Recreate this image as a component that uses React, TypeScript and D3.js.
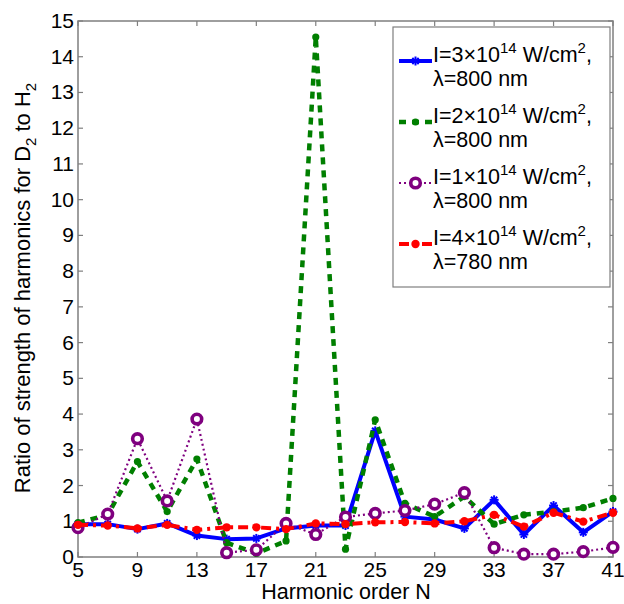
import React from 'react'
import * as d3 from 'd3'

// harmonic orders on the x axis
const harmonics = [5, 7, 9, 11, 13, 15, 17, 19, 21, 23, 25, 27, 29, 31, 33, 35, 37, 39, 41]

// ratio D2/H2 for each laser condition
const i3w800 = [0.92, 0.92, 0.78, 0.94, 0.6, 0.5, 0.52, 0.8, 0.88, 0.88, 3.53, 1.13, 1.05, 0.8, 1.6, 0.63, 1.44, 0.69, 1.27]
const i2w800 = [0.96, 1.18, 2.67, 1.27, 2.74, 0.4, 0.1, 0.45, 14.55, 0.22, 3.84, 1.5, 1.13, 1.69, 0.92, 1.18, 1.27, 1.38, 1.64]
const i1w800 = [0.82, 1.2, 3.31, 1.57, 3.86, 0.12, 0.2, 0.94, 0.63, 1.12, 1.22, 1.3, 1.48, 1.8, 0.26, 0.08, 0.08, 0.15, 0.27]
const i4w780 = [0.9, 0.88, 0.8, 0.9, 0.76, 0.83, 0.83, 0.78, 0.94, 0.92, 0.97, 0.98, 0.94, 1.0, 1.18, 0.85, 1.24, 0.99, 1.24]

const intensities = ['3', '2', '1', '4']
const wavelengths = ['800', '800', '800', '780']

const xTicks = [5, 9, 13, 17, 21, 25, 29, 33, 37, 41]
const yTicks = d3.range(0, 16)

const W = 624
const H = 604
const left = 78
const right = 613
const top = 21
const bottom = 557

const x = d3.scaleLinear().domain([5, 41]).range([left, right])
const y = d3.scaleLinear().domain([0, 15]).range([bottom, top])

const font = '"Liberation Sans", Arial, Helvetica, sans-serif'
const axisColor = '#7f7f7f'

const series = [
  {values: i3w800, color: '#0000ff', width: 4, dash: null, marker: 'star'},
  {values: i2w800, color: '#007f00', width: 4.5, dash: '7,6', marker: 'dot'},
  {values: i1w800, color: '#7f007f', width: 2.2, dash: '2,3', marker: 'circle'},
  {values: i4w780, color: '#ff0000', width: 4, dash: '10,5,3,5', marker: 'fdot'},
]

const Marker = ({kind, cx, cy, color}) => {
  if (kind === 'star') {
    const s = 4.5
    return (
      <g stroke={color} strokeWidth={2}>
        <line x1={cx - s} y1={cy} x2={cx + s} y2={cy}/>
        <line x1={cx} y1={cy - s} x2={cx} y2={cy + s}/>
        <line x1={cx - s * 0.7} y1={cy - s * 0.7} x2={cx + s * 0.7} y2={cy + s * 0.7}/>
        <line x1={cx - s * 0.7} y1={cy + s * 0.7} x2={cx + s * 0.7} y2={cy - s * 0.7}/>
      </g>
    )
  }
  if (kind === 'circle') {
    return <circle cx={cx} cy={cy} r={4.8} fill="white" stroke={color} strokeWidth={3.6}/>
  }
  if (kind === 'dot') {
    return <circle cx={cx} cy={cy} r={3.6} fill={color}/>
  }
  return <circle cx={cx} cy={cy} r={4.2} fill={color}/>
}

const App = () => {
  const line = d3.line().x(d => x(d[0])).y(d => y(d[1]))

  const legendX = 393
  const legendTop = 27
  const rowGap = 61

  return (
    <svg width={W} height={H} style={{display: 'block', position: 'absolute', left: 0, top: 0}} fontFamily={font}>
      <rect width={W} height={H} fill="white"/>

      {/* axes box */}
      <rect x={left} y={top} width={right - left} height={bottom - top} fill="none" stroke={axisColor} strokeWidth={1.5}/>

      {xTicks.map(t => (
        <g key={'x' + t}>
          <line x1={x(t)} x2={x(t)} y1={bottom} y2={bottom - 5} stroke={axisColor} strokeWidth={1.2}/>
          <line x1={x(t)} x2={x(t)} y1={top} y2={top + 5} stroke={axisColor} strokeWidth={1.2}/>
          <text x={x(t)} y={bottom + 20} textAnchor="middle" fontSize={21} fill="#000">{t}</text>
        </g>
      ))}
      {yTicks.map(t => (
        <g key={'y' + t}>
          <line x1={left} x2={left + 5} y1={y(t)} y2={y(t)} stroke={axisColor} strokeWidth={1.2}/>
          <line x1={right} x2={right - 5} y1={y(t)} y2={y(t)} stroke={axisColor} strokeWidth={1.2}/>
          <text x={left - 4} y={y(t) + 7} textAnchor="end" fontSize={21} fill="#000">{t}</text>
        </g>
      ))}

      <text x={346} y={599} textAnchor="middle" fontSize={21.5} fill="#000">Harmonic order N</text>
      <text transform="translate(30, 288) rotate(-90)" textAnchor="middle" fontSize={22} fill="#000">
        Ratio of strength of harmonics for D<tspan fontSize={15} dy={6}>2</tspan><tspan dy={-6}> to H</tspan><tspan fontSize={15} dy={6}>2</tspan>
      </text>

      {/* data */}
      {series.map((s, k) => {
        const pts = harmonics.map((h, i) => [h, s.values[i]])
        return (
          <g key={'s' + k}>
            <path d={line(pts)} fill="none" stroke={s.color} strokeWidth={s.width} strokeDasharray={s.dash || undefined} strokeLinejoin="round"/>
            {pts.map((p, i) => <Marker key={i} kind={s.marker} cx={x(p[0])} cy={y(p[1])} color={s.color}/>)}
          </g>
        )
      })}

      {/* legend */}
      <rect x={legendX} y={legendTop} width={217} height={260} fill="white" stroke={axisColor} strokeWidth={1.2}/>
      {series.map((s, k) => {
        const base = 62 + k * rowGap
        const ly = base - 1
        return (
          <g key={'l' + k}>
            <line x1={399} x2={432} y1={ly} y2={ly} stroke={s.color} strokeWidth={s.width} strokeDasharray={s.dash || undefined}/>
            <Marker kind={s.marker} cx={415.5} cy={ly} color={s.color}/>
            <text x={433} y={base} fontSize={21.5} fill="#000">
              I={intensities[k]}×10<tspan fontSize={15} dy={-9}>14</tspan><tspan dy={9}> W/cm</tspan><tspan fontSize={15} dy={-9}>2</tspan><tspan dy={9}>,</tspan>
            </text>
            <text x={433} y={base + 24} fontSize={21.5} fill="#000">λ={wavelengths[k]} nm</text>
          </g>
        )
      })}
    </svg>
  )
}

export default App
